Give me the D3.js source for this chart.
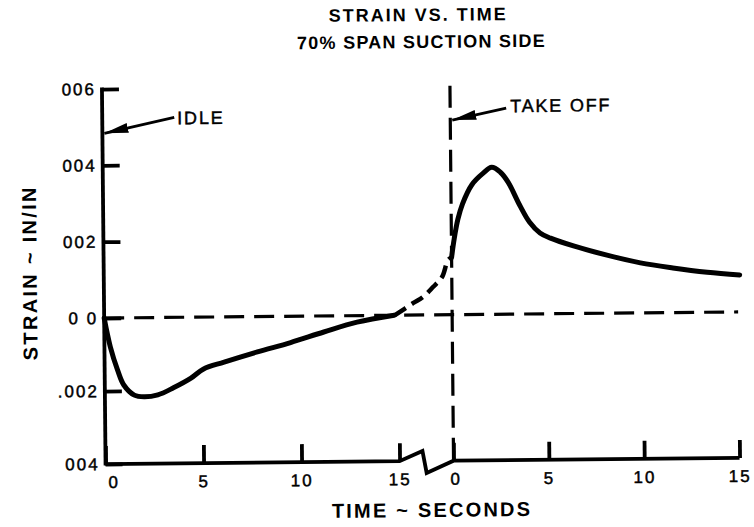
<!DOCTYPE html>
<html>
<head>
<meta charset="utf-8">
<script src="https://cdn.jsdelivr.net/npm/d3@7"></script>
<style>
  html, body { margin: 0; padding: 0; background: #fff; }
  svg { display: block; }
  text { font-family: "Liberation Sans", Arial, Helvetica, sans-serif; fill: #000; }
  text.ink { stroke: #000; stroke-width: 0.45px; }
</style>
</head>
<body>
<svg id="chart" width="754" height="527"></svg>
<script>
// Blade strain at 70% span, suction side: idle run (left panel) and take-off (right panel)
const idleTime   = [0, 0.3, 0.66, 0.97, 1.5, 2.0, 2.7, 3.5, 4.4, 5.05, 6.1, 7.8, 9.5, 11.2, 12.9, 14.8];
const idleStrain = [0, -0.00079, -0.00143, -0.00184, -0.00212, -0.00217, -0.00212, -0.00193,
                    -0.00167, -0.00142, -0.00124, -0.00097, -0.00072, -0.00044, -0.00018, 0];

// spool-up before take-off (seconds relative to take-off), drawn dashed
const rampTime   = [-3.0, -2.05, -1.52, -0.99, -0.51, -0.19, 0];
const rampStrain = [0, 0.00031, 0.00047, 0.00073, 0.00099, 0.00143, 0.0015];

const takeoffTime   = [0, 0.15, 0.35, 0.6, 1.1, 1.7, 2.15, 2.6, 3.0, 3.6, 4.1, 4.65, 5.2,
                       6.4, 8.15, 9.9, 11.6, 13.4, 15.1];
const takeoffStrain = [0.0015, 0.0020, 0.0025, 0.0029, 0.0034, 0.0037, 0.00385, 0.00372, 0.00346,
                       0.00285, 0.00241, 0.00212, 0.00198, 0.00177, 0.00152, 0.00131, 0.00117,
                       0.00105, 0.00097];

const yTicks      = [-0.004, -0.002, 0, 0.002, 0.004, 0.006];
const yTickLabels = ["004", ".002", "0 0", "002", "004", "006"];
const xTicks      = [0, 5, 10, 15];
const xTickLabels = ["0", "5", "10", "15"];

const titleLines = ["STRAIN VS. TIME", "70% SPAN SUCTION SIDE"];
const yTitle = "STRAIN ~ IN/IN";
const xTitle = "TIME ~ SECONDS";

const svg = d3.select("#chart");
// the whole sheet sits a hair off square
const g = svg.append("g").attr("transform", "rotate(-0.55,420,300)");

// two time panels sharing one strain axis, joined by a broken baseline
const xL = d3.scaleLinear().domain([0, 15]).range([104, 398]);
const xR = d3.scaleLinear().domain([0, 15]).range([452, 738]);
const y  = d3.scaleLinear().domain([-0.004, 0, 0.006]).range([461, 315, 86]);

const AX = 3.8;

// zero strain reference
g.append("line")
  .attr("x1", xL(0)).attr("x2", xR(15))
  .attr("y1", y(0)).attr("y2", y(0))
  .attr("stroke", "#000").attr("stroke-width", 3.2)
  .attr("stroke-dasharray", "20 10");

// take-off instant
g.append("line")
  .attr("x1", xR(0)).attr("x2", xR(0))
  .attr("y1", y(0.006)).attr("y2", y(-0.004))
  .attr("stroke", "#000").attr("stroke-width", 3.2)
  .attr("stroke-dasharray", "22 10");

// strain axis
const yAxis = d3.axisLeft(y).tickValues(yTicks)
  .tickFormat((d, i) => yTickLabels[i]).tickSize(-17).tickPadding(6);
const gy = g.append("g").attr("transform", `translate(${xL(0)},0)`).call(yAxis);
gy.select(".domain").remove();
gy.selectAll(".tick line").attr("stroke", "#000").attr("stroke-width", AX);
gy.selectAll(".tick text").attr("class", "ink").attr("font-size", 17).attr("letter-spacing", 2);
g.append("line")
  .attr("x1", xL(0)).attr("x2", xL(0))
  .attr("y1", y(0.006) - 1.5).attr("y2", y(-0.004) + 1.5)
  .attr("stroke", "#000").attr("stroke-width", AX);

// time axes
const baseY = y(-0.004);
function timeAxis(scale, shiftFirst) {
  const ax = d3.axisBottom(scale).tickValues(xTicks)
    .tickFormat((d, i) => xTickLabels[i]).tickSize(-18).tickPadding(12);
  const ga = g.append("g").attr("transform", `translate(0,${baseY})`).call(ax);
  ga.select(".domain").remove();
  ga.selectAll(".tick line").attr("stroke", "#000").attr("stroke-width", AX);
  ga.selectAll(".tick text").attr("class", "ink").attr("font-size", 17).attr("letter-spacing", 2)
    .attr("dx", (d, i) => (i === 0 ? shiftFirst : 0));
  return ga;
}
timeAxis(xL, 8);
timeAxis(xR, 2);

// baseline with the break symbol between the panels
const brk = [
  [xL(0), baseY], [xL(15), baseY],
  [xL(15) + 23, baseY - 10], [xL(15) + 27, baseY + 12],
  [xR(0), baseY], [xR(15), baseY]
];
g.append("path")
  .attr("d", d3.line()(brk))
  .attr("fill", "none").attr("stroke", "#000")
  .attr("stroke-width", AX).attr("stroke-linejoin", "miter");

// strain traces
const line = (xs) => d3.line().x(d => xs(d[0])).y(d => y(d[1])).curve(d3.curveCatmullRom.alpha(0.5));
const zip = (a, b) => a.map((v, i) => [v, b[i]]);

g.append("path")
  .attr("d", line(xL)(zip(idleTime, idleStrain)))
  .attr("fill", "none").attr("stroke", "#000").attr("stroke-width", 5)
  .attr("stroke-linecap", "round");

g.append("path")
  .attr("d", line(xR)(zip(rampTime, rampStrain)))
  .attr("fill", "none").attr("stroke", "#000").attr("stroke-width", 4.5)
  .attr("stroke-dasharray", "13 7");

g.append("path")
  .attr("d", line(xR)(zip(takeoffTime, takeoffStrain)))
  .attr("fill", "none").attr("stroke", "#000").attr("stroke-width", 5)
  .attr("stroke-linecap", "round").attr("stroke-linejoin", "round");

// call-outs
svg.append("defs").append("marker")
  .attr("id", "head").attr("markerUnits", "userSpaceOnUse")
  .attr("viewBox", "0 -6 24 12").attr("refX", 24).attr("refY", 0)
  .attr("markerWidth", 24).attr("markerHeight", 12).attr("orient", "auto")
  .append("path").attr("d", "M0,-5L24,0L0,5Z").attr("fill", "#000");

function callout(x0, y0, x1, y1, label, tx, ty) {
  g.append("line")
    .attr("x1", x0).attr("y1", y0).attr("x2", x1).attr("y2", y1)
    .attr("stroke", "#000").attr("stroke-width", 2.8)
    .attr("marker-end", "url(#head)");
  g.append("text").attr("class", "ink").attr("x", tx).attr("y", ty)
    .attr("font-size", 18).attr("letter-spacing", 1.8).text(label);
}
callout(176, 115, xL(0) + 2, y(0.00484), "IDLE", 179, 122);
callout(508, 109, xR(0) + 2, y(0.0051), "TAKE OFF", 512, 113);

// titles
g.append("text").attr("x", 421).attr("y", 21).attr("text-anchor", "middle")
  .attr("font-size", 18).attr("font-weight", "bold").attr("letter-spacing", 2)
  .text(titleLines[0]);
g.append("text").attr("x", 424).attr("y", 48).attr("text-anchor", "middle")
  .attr("font-size", 18).attr("font-weight", "bold").attr("letter-spacing", 1.25)
  .text(titleLines[1]);

g.append("text").attr("transform", "translate(37,269) rotate(-90)")
  .attr("text-anchor", "middle")
  .attr("font-size", 20).attr("font-weight", "bold").attr("letter-spacing", 2.3)
  .text(yTitle);

g.append("text").attr("x", 430).attr("y", 517).attr("text-anchor", "middle")
  .attr("font-size", 20).attr("font-weight", "bold").attr("letter-spacing", 2.2)
  .text(xTitle);
</script>
</body>
</html>
